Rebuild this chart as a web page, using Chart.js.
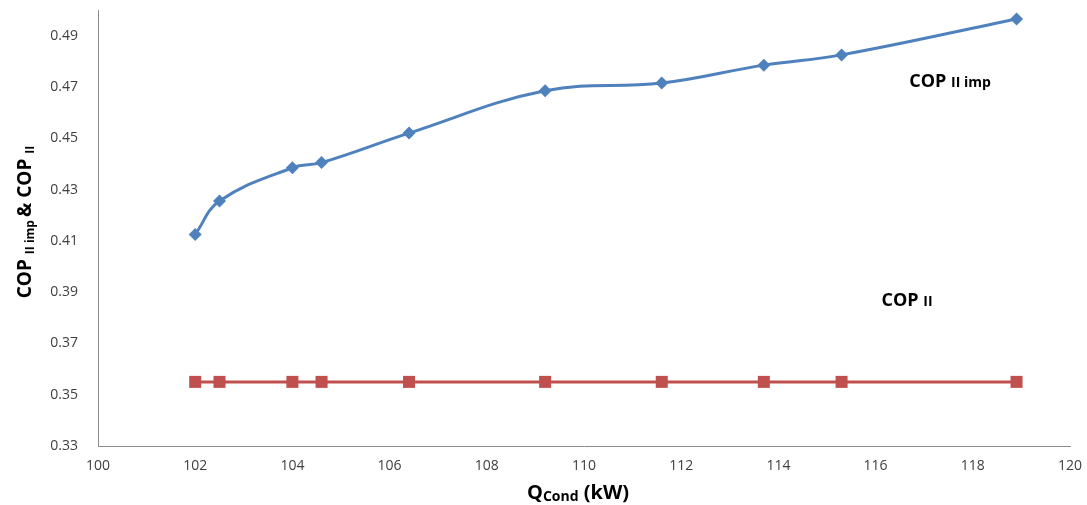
<!DOCTYPE html>
<html>
<head>
<meta charset="utf-8">
<script src="https://cdn.jsdelivr.net/npm/chart.js@4.4.1/dist/chart.umd.min.js"></script>
<style>
  html, body { margin: 0; padding: 0; background: #fff; }
  #wrap { width: 1087px; height: 505px; }
</style>
</head>
<body>
<div id="wrap"><canvas id="myChart" width="1087" height="505"></canvas></div>
<script>
// Q_cond (kW) values
const qCond = [102.0, 102.5, 104.0, 104.6, 106.4, 109.2, 111.6, 113.7, 115.3, 118.9];
// COP II imp (blue, smoothed)
const copImp = [0.4125, 0.4255, 0.4385, 0.4405, 0.452, 0.4685, 0.4715, 0.4785, 0.4825, 0.4965];
// COP II (red, flat)
const copII = [0.355, 0.355, 0.355, 0.355, 0.355, 0.355, 0.355, 0.355, 0.355, 0.355];
const xTicks = [100, 102, 104, 106, 108, 110, 112, 114, 116, 118, 120];
const yTicks = [0.33, 0.35, 0.37, 0.39, 0.41, 0.43, 0.45, 0.47, 0.49];

const FONT = "'Open Sans', 'Liberation Sans', sans-serif";

function toPoints(xs, ys) {
  return xs.map((x, i) => ({ x: x, y: ys[i] }));
}

// draw text made of pieces with different sizes (for the subscripts)
function richText(ctx, parts, x, y, rotate) {
  ctx.save();
  ctx.translate(x, y);
  if (rotate) ctx.rotate(-Math.PI / 2);
  let total = 0;
  parts.forEach(p => {
    ctx.font = "bold " + p.size + "px " + FONT;
    total += ctx.measureText(p.t).width;
  });
  let cx = -total / 2;
  ctx.textBaseline = "alphabetic";
  ctx.fillStyle = "#000";
  parts.forEach(p => {
    ctx.font = "bold " + p.size + "px " + FONT;
    ctx.fillText(p.t, cx, p.dy || 6);
    cx += ctx.measureText(p.t).width;
  });
  ctx.restore();
}

const labelsPlugin = {
  id: "labels",
  afterDraw(chart) {
    const ctx = chart.ctx;
    // y axis title
    richText(ctx, [
      { t: "COP ", size: 19, dy: 7 },
      { t: "II imp ", size: 12, dy: 10 },
      { t: "& COP ", size: 19, dy: 7 },
      { t: "II", size: 12, dy: 10 }
    ], 24, 222, true);
    // x axis title
    richText(ctx, [
      { t: "Q", size: 20, dy: 7 },
      { t: "Cond", size: 14, dy: 9 },
      { t: " (kW)", size: 20, dy: 7 }
    ], 578, 492, false);
    // series labels
    richText(ctx, [
      { t: "COP ", size: 18, dy: 6 },
      { t: "II imp", size: 14, dy: 6 }
    ], 950, 81, false);
    richText(ctx, [
      { t: "COP ", size: 18, dy: 6 },
      { t: "II", size: 14, dy: 6 }
    ], 907, 300, false);
  }
};

const ctx = document.getElementById("myChart").getContext("2d");

new Chart(ctx, {
  type: "line",
  data: {
    datasets: [
      {
        label: "COP II imp",
        data: toPoints(qCond, copImp),
        borderColor: "#4F81BD",
        backgroundColor: "#4F81BD",
        borderWidth: 3,
        tension: 0.4,
        pointStyle: "rectRot",
        pointRadius: 6.5,
        pointBorderWidth: 0
      },
      {
        label: "COP II",
        data: toPoints(qCond, copII),
        borderColor: "#C0504D",
        backgroundColor: "#C0504D",
        borderWidth: 3,
        tension: 0,
        pointStyle: "rect",
        pointRadius: 8.5,
        pointBorderWidth: 0
      }
    ]
  },
  options: {
    responsive: false,
    animation: false,
    layout: { padding: { top: 10, right: 17, bottom: 0, left: 0 } },
    plugins: {
      legend: { display: false },
      tooltip: { enabled: false }
    },
    scales: {
      x: {
        type: "linear",
        min: 100,
        max: 120,
        grid: { display: false, drawTicks: false },
        border: { color: "#8c8c8c", width: 1 },
        afterBuildTicks: (scale) => { scale.ticks = xTicks.map(v => ({ value: v })); },
        afterFit: (scale) => {
          scale.height = 59;
          scale.paddingLeft = 0;
          scale.paddingRight = 0;
        },
        ticks: {
          padding: 12,
          color: "#404040",
          font: { family: FONT, size: 14 },
          callback: (v) => v
        }
      },
      y: {
        type: "linear",
        min: 0.33,
        max: 0.50,
        grid: { display: false, drawTicks: false },
        border: { color: "#8c8c8c", width: 1 },
        afterBuildTicks: (scale) => { scale.ticks = yTicks.map(v => ({ value: v })); },
        afterFit: (scale) => {
          scale.width = 98;
          scale.paddingTop = 0;
          scale.paddingBottom = 0;
        },
        ticks: {
          padding: 20,
          color: "#404040",
          font: { family: FONT, size: 14 },
          callback: (v) => v.toFixed(2)
        }
      }
    }
  },
  plugins: [labelsPlugin]
});
</script>
</body>
</html>
